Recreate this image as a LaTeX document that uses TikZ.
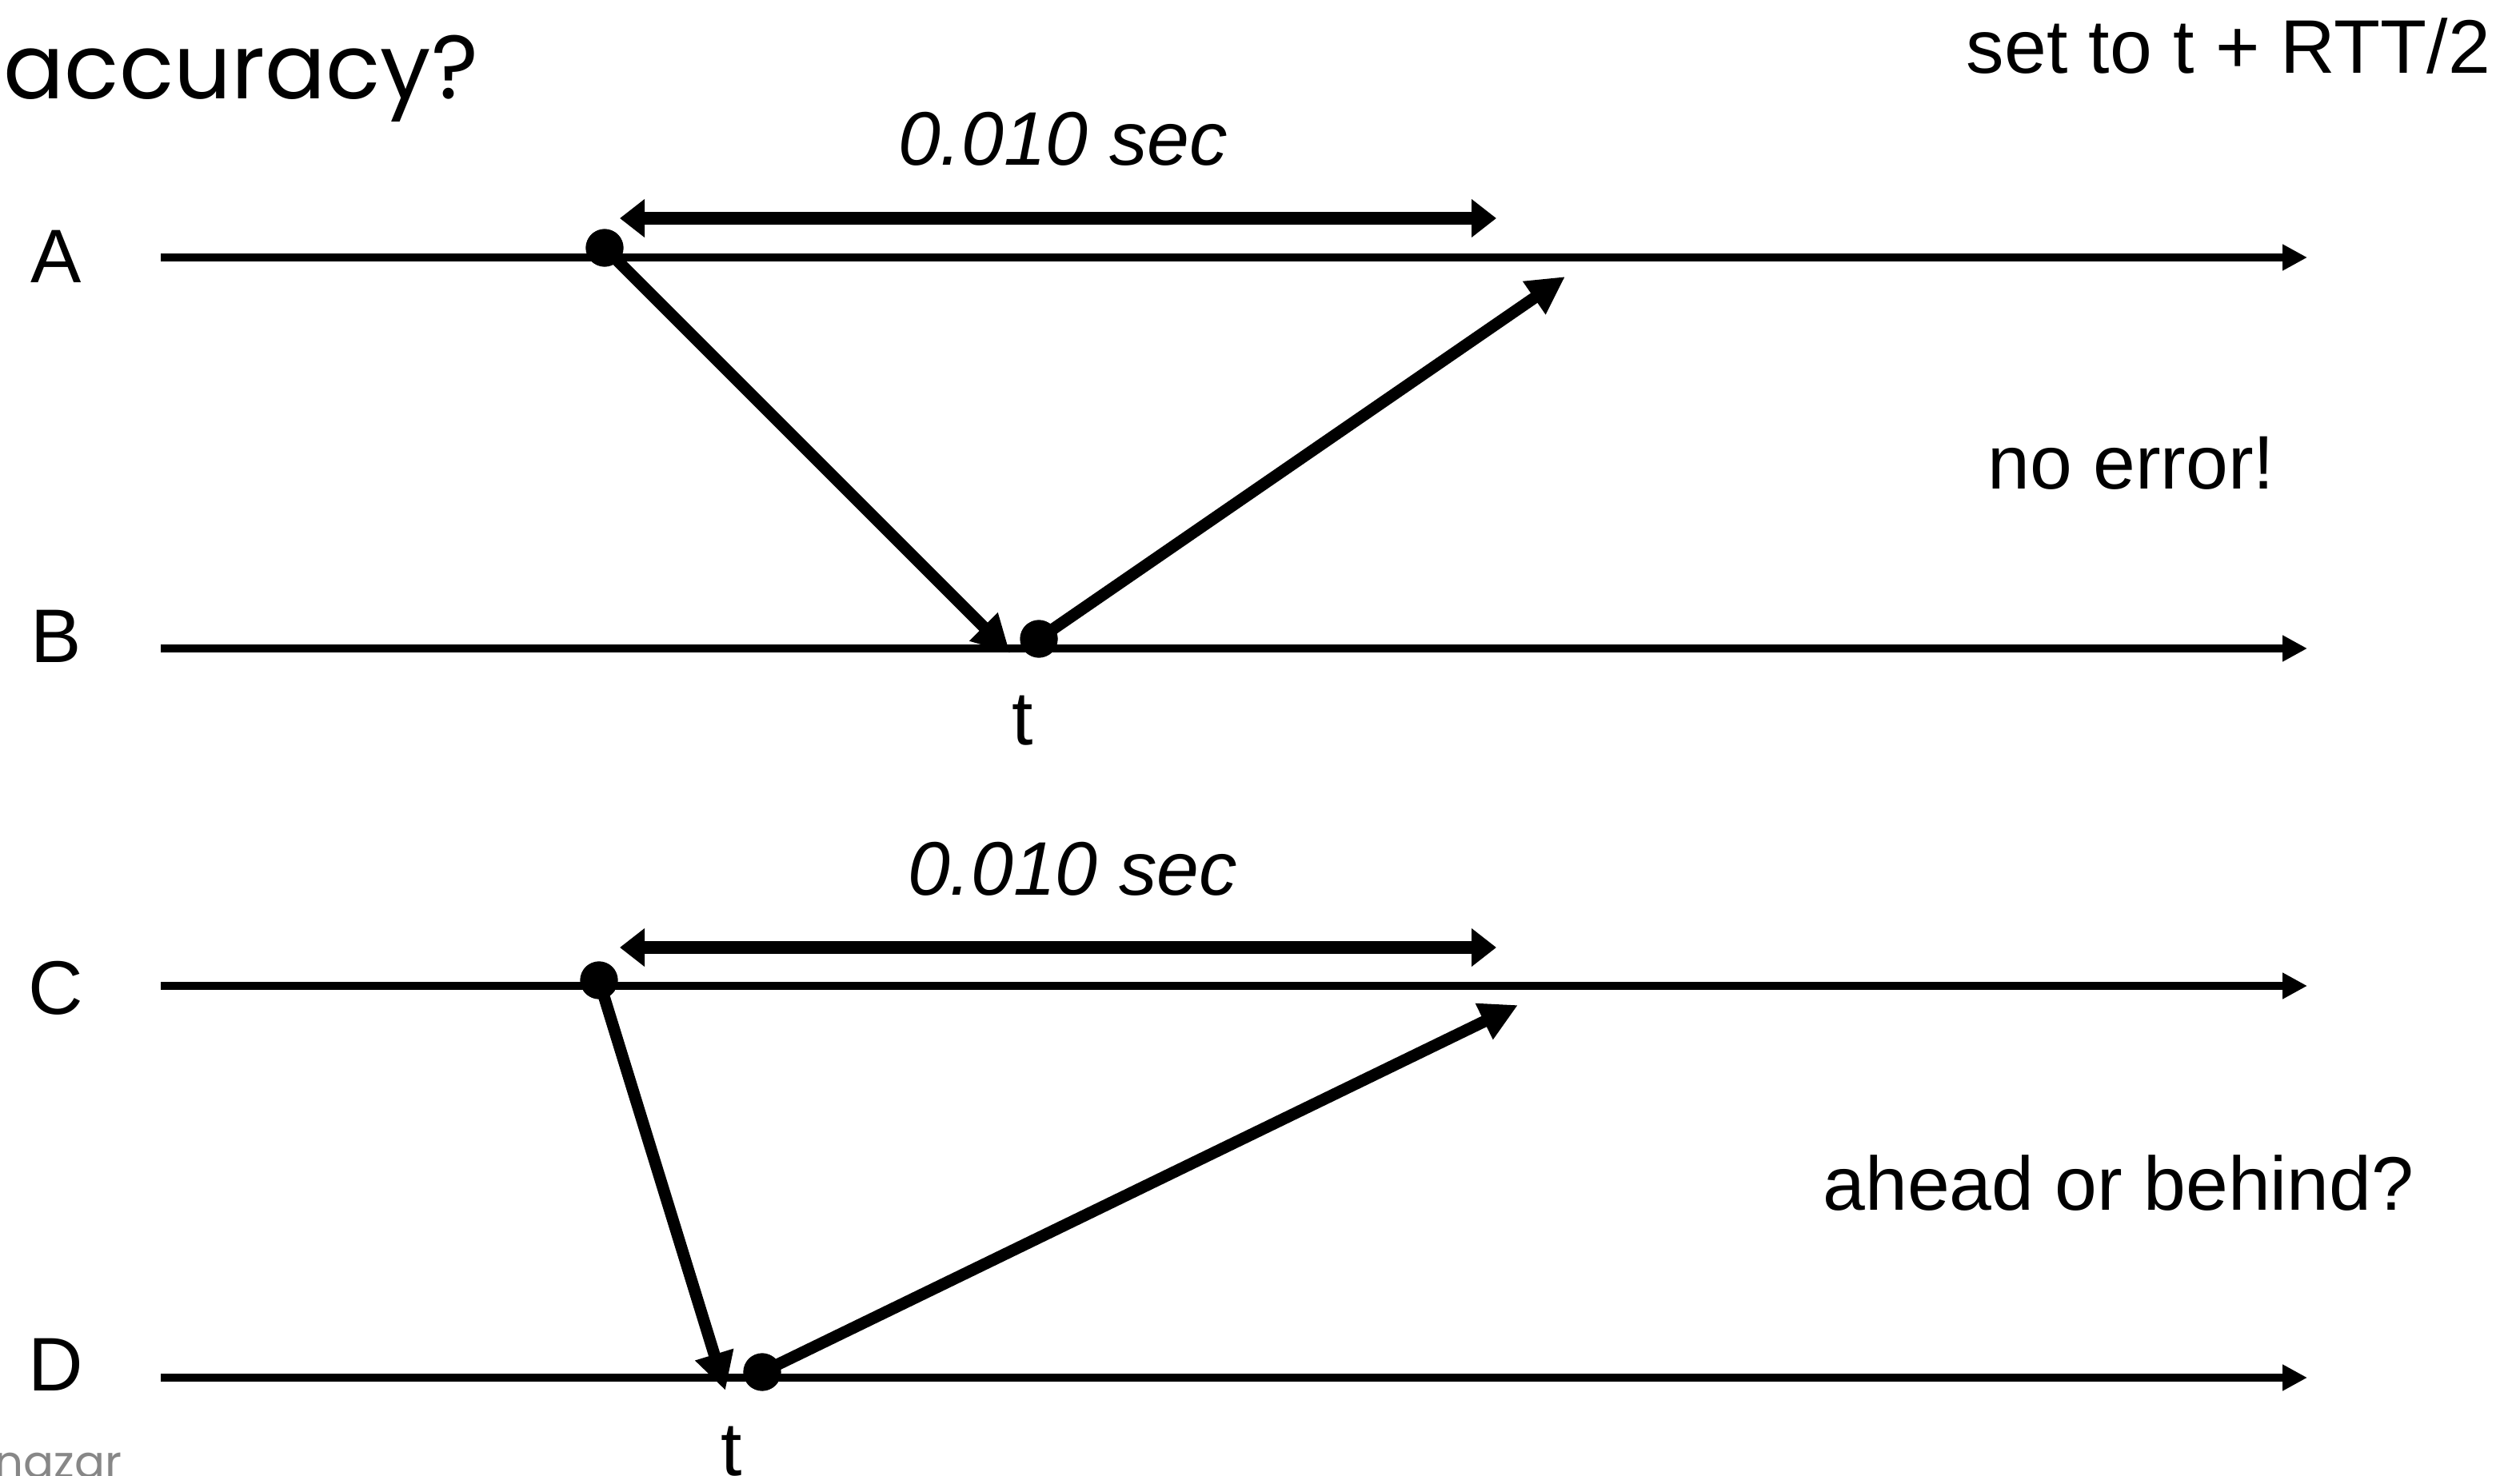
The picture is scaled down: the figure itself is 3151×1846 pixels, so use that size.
\documentclass[tikz,border=0pt]{standalone}
\usepackage{fontspec}
\setmainfont{Liberation Sans}
\newfontfamily\geofont{Poppins}
\usetikzlibrary{arrows.meta}

\tikzset{
  timeline/.style={line width=2.85pt, -{Triangle[length=0.31cm,width=0.31cm]}},
  span/.style={line width=4.7pt, {Triangle[length=0.31cm,width=0.46cm]}-{Triangle[length=0.31cm,width=0.46cm]}},
  msg/.style={line width=4.2pt, -{Triangle[length=0.47cm,width=0.47cm]}},
  event/.style={circle, fill=black, inner sep=0pt, minimum size=0.47cm},
  lbl/.style={font=\fontsize{27pt}{30pt}\selectfont, anchor=base, inner sep=0pt},
  dur/.style={lbl, font=\fontsize{27pt}{30pt}\selectfont\itshape},
}

\begin{document}
\begin{tikzpicture}[x=0.01cm, y=-0.01cm]
  \useasboundingbox (0,0) rectangle (3151,1846);
  \clip (0,0) rectangle (3151,1846);

  % title and footer
  \node[anchor=base west, inner sep=0pt, font=\geofont\fontsize{32pt}{36pt}\selectfont] (title) at (4,124) {accuracy?};
  \node[anchor=base east, inner sep=0pt, text=black!47, font=\geofont\fontsize{16pt}{18pt}\selectfont] (footer) at (153,1848) {nazar};

  % process labels
  \node[lbl] (labA) at (70,354) {A};
  \node[lbl] (labB) at (70,828) {B};
  \node[lbl] (labC) at (70,1268) {C};
  \node[lbl] (labD) at (70,1739) {D};

  % timeline end points
  \coordinate (a0) at (201,322);  \coordinate (a1) at (2885,322);
  \coordinate (b0) at (201,811);  \coordinate (b1) at (2885,811);
  \coordinate (c0) at (201,1233); \coordinate (c1) at (2885,1233);
  \coordinate (d0) at (201,1723); \coordinate (d1) at (2885,1723);

  \draw[timeline] (a0) -- (a1);
  \draw[timeline] (b0) -- (b1);
  \draw[timeline] (c0) -- (c1);
  \draw[timeline] (d0) -- (d1);

  % round-trip intervals
  \coordinate (s1l) at (775,273);  \coordinate (s1r) at (1871,273);
  \coordinate (s2l) at (775,1185); \coordinate (s2r) at (1871,1185);
  \draw[span] (s1l) -- (s1r);
  \draw[span] (s2l) -- (s2r);
  \node[dur] (dur1) at (1329,207) {0.010 sec};
  \node[dur] (dur2) at (1341,1119) {0.010 sec};

  % events
  \node[event] (ea) at (756,310) {};
  \node[event] (eb) at (1299,799) {};
  \node[event] (ec) at (749,1226) {};
  \node[event] (ed) at (953,1716) {};

  % message tips
  \coordinate (tb) at (1263,817);
  \coordinate (ta) at (1957,346);
  \coordinate (td) at (907,1739);
  \coordinate (tc) at (1898,1257);

  \draw[msg] (ea.center) -- (tb);
  \draw[msg] (eb.center) -- (ta);
  \draw[msg] (ec.center) -- (td);
  \draw[msg] (ed.center) -- (tc);

  % redraw the event dots above the messages
  \fill (ea) circle (0.235cm);
  \fill (eb) circle (0.235cm);
  \fill (ec) circle (0.235cm);
  \fill (ed) circle (0.235cm);

  % time stamps
  \node[lbl] (tB) at (1279,932) {t};
  \node[lbl] (tD) at (915,1845) {t};

  % notes
  \node[lbl, anchor=base west] (rule) at (2458,92) {set to t + RTT/2};
  \node[lbl] (ok) at (2665,612) {no error!};
  \node[lbl] (q) at (2649,1513) {ahead or behind?};
\end{tikzpicture}
\end{document}
